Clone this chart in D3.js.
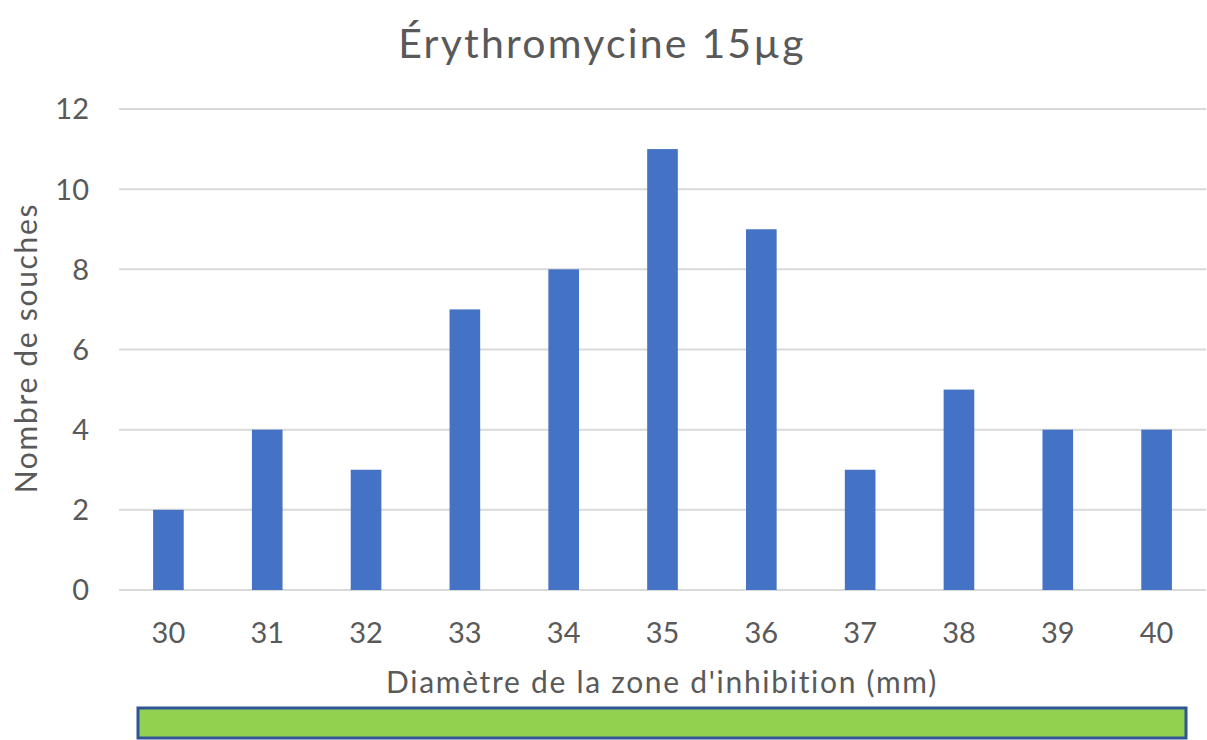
<!DOCTYPE html>
<html>
<head>
<meta charset="utf-8">
<script src="https://cdn.jsdelivr.net/npm/d3@7"></script>
<style>
  body { margin: 0; background: #fff; }
  text { font-family: Lato, "Open Sans", sans-serif; fill: #595959; }
</style>
</head>
<body>
<svg id="chart" width="1207" height="740"></svg>
<script>
var categories = ["30", "31", "32", "33", "34", "35", "36", "37", "38", "39", "40"];
var counts = [2, 4, 3, 7, 8, 11, 9, 3, 5, 4, 4];
var yTicks = [0, 2, 4, 6, 8, 10, 12];

var svg = d3.select("#chart");
var plotLeft = 119, plotRight = 1206, plotTop = 109, plotBottom = 590;

var x = d3.scaleBand()
  .domain(categories)
  .range([plotLeft, plotRight])
  .paddingInner(0.69)
  .paddingOuter(0.345);

var y = d3.scaleLinear()
  .domain([0, 12])
  .range([plotBottom, plotTop]);

// gridlines
svg.append("g")
  .selectAll("line")
  .data(yTicks)
  .join("line")
  .attr("x1", plotLeft)
  .attr("x2", plotRight)
  .attr("y1", function(d) { return y(d); })
  .attr("y2", function(d) { return y(d); })
  .attr("stroke", "#d9d9d9")
  .attr("stroke-width", 2);

// y labels
svg.append("g")
  .selectAll("text")
  .data(yTicks)
  .join("text")
  .attr("x", 89)
  .attr("y", function(d) { return y(d); })
  .attr("dy", "0.36em")
  .attr("text-anchor", "end")
  .style("font-size", "29px")
  .text(function(d) { return d; });

// bars
svg.append("g")
  .selectAll("rect")
  .data(counts)
  .join("rect")
  .attr("x", function(d, i) { return x(categories[i]); })
  .attr("width", x.bandwidth())
  .attr("y", function(d) { return y(d); })
  .attr("height", function(d) { return y(0) - y(d); })
  .attr("fill", "#4472c4");

// x labels
svg.append("g")
  .selectAll("text")
  .data(categories)
  .join("text")
  .attr("x", function(d) { return x(d) + x.bandwidth() / 2; })
  .attr("y", 643)
  .attr("text-anchor", "middle")
  .style("font-size", "29px")
  .text(function(d) { return d; });

svg.append("text")
  .attr("x", 602)
  .attr("y", 58)
  .attr("text-anchor", "middle")
  .style("font-size", "41px")
  .style("letter-spacing", "2.2px")
  .text("Érythromycine 15µg");

svg.append("text")
  .attr("x", 662)
  .attr("y", 693)
  .attr("text-anchor", "middle")
  .style("font-size", "30px")
  .style("letter-spacing", "1.7px")
  .text("Diamètre de la zone d'inhibition (mm)");

svg.append("text")
  .attr("transform", "translate(37,348) rotate(-90)")
  .attr("text-anchor", "middle")
  .style("font-size", "30px")
  .style("letter-spacing", "1.7px")
  .text("Nombre de souches");

// green band under the axis
svg.append("rect")
  .attr("x", 138)
  .attr("y", 708)
  .attr("width", 1048)
  .attr("height", 30)
  .attr("fill", "#92d050")
  .attr("stroke", "#2f5597")
  .attr("stroke-width", 3);
</script>
</body>
</html>
